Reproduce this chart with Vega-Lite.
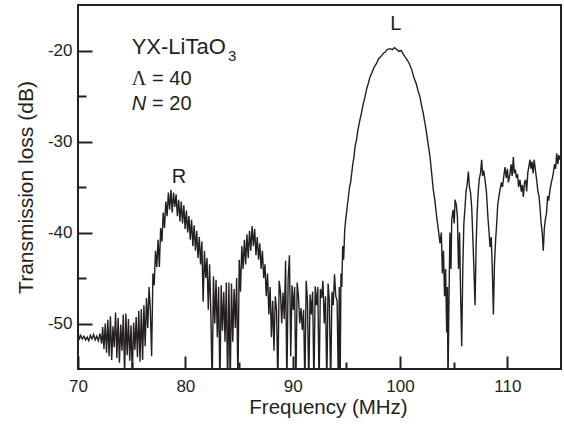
{
  "$schema": "https://vega.github.io/schema/vega-lite/v6.json",
  "width": 483,
  "height": 364,
  "autosize": {"type": "none"},
  "padding": {"left": 78, "top": 5, "right": 3, "bottom": 55},
  "background": "white",
  "config": {
    "view": {"stroke": "#231f20", "strokeWidth": 2},
    "font": "Liberation Sans",
    "axis": {
      "domain": false,
      "grid": false,
      "tickColor": "#231f20",
      "tickWidth": 2,
      "labelFont": "Liberation Sans",
      "labelFontSize": 17,
      "labelColor": "#231f20",
      "labelFlush": false,
      "titleFont": "Liberation Sans",
      "titleFontSize": 21,
      "titleFontWeight": "normal",
      "titleColor": "#231f20"
    }
  },
  "layer": [
    {
      "data": {"values": [
        {"freq":70.0,"loss":-50.6},{"freq":70.1,"loss":-51.8},{"freq":70.25,"loss":-51.3},{"freq":70.4,"loss":-51.7},{"freq":70.55,"loss":-51.4},{"freq":70.7,"loss":-51.8},{"freq":70.85,"loss":-51.5},{"freq":71.0,"loss":-51.9},{"freq":71.15,"loss":-51.3},{"freq":71.3,"loss":-51.7},{"freq":71.45,"loss":-51.2},{"freq":71.6,"loss":-51.8},{"freq":71.75,"loss":-51.4},{"freq":71.9,"loss":-51.9},{"freq":72.05,"loss":-51.1},{"freq":72.2,"loss":-52.2},
        {"freq":72.3,"loss":-50.4},{"freq":72.42,"loss":-52.8},{"freq":72.54,"loss":-50.0},{"freq":72.66,"loss":-53.2},{"freq":72.78,"loss":-49.6},{"freq":72.9,"loss":-53.6},{"freq":73.02,"loss":-49.2},{"freq":73.14,"loss":-54.0},{"freq":73.26,"loss":-50.3},{"freq":73.38,"loss":-52.6},{"freq":73.5,"loss":-48.8},{"freq":73.62,"loss":-53.8},{"freq":73.74,"loss":-49.4},{"freq":73.86,"loss":-54.3},{"freq":73.98,"loss":-50.1},{"freq":74.1,"loss":-53.0},{"freq":74.22,"loss":-49.0},{"freq":74.34,"loss":-55.6},{"freq":74.46,"loss":-48.9},{"freq":74.58,"loss":-53.5},{"freq":74.7,"loss":-49.5},{"freq":74.82,"loss":-54.1},{"freq":74.94,"loss":-50.2},{"freq":75.06,"loss":-55.8},{"freq":75.18,"loss":-49.9},{"freq":75.3,"loss":-52.9},{"freq":75.42,"loss":-49.3},{"freq":75.54,"loss":-53.7},{"freq":75.66,"loss":-48.6},{"freq":75.78,"loss":-54.2},{"freq":75.9,"loss":-48.4},{"freq":76.02,"loss":-54.0},{"freq":76.14,"loss":-48.0},{"freq":76.26,"loss":-52.5},{"freq":76.38,"loss":-47.2},{"freq":76.5,"loss":-50.5},
        {"freq":76.62,"loss":-46.0},{"freq":76.74,"loss":-48.5},{"freq":76.86,"loss":-53.6},{"freq":76.98,"loss":-44.5},{"freq":77.1,"loss":-45.8},{"freq":77.22,"loss":-42.0},{"freq":77.34,"loss":-43.8},{"freq":77.46,"loss":-40.8},{"freq":77.58,"loss":-43.8},{"freq":77.7,"loss":-39.5},{"freq":77.82,"loss":-41.0},{"freq":77.94,"loss":-37.8},{"freq":78.06,"loss":-39.5},{"freq":78.18,"loss":-36.6},{"freq":78.3,"loss":-38.2},{"freq":78.42,"loss":-35.6},{"freq":78.54,"loss":-37.5},{"freq":78.66,"loss":-35.3},{"freq":78.78,"loss":-37.8},{"freq":78.9,"loss":-35.6},{"freq":79.02,"loss":-37.2},{"freq":79.14,"loss":-35.8},{"freq":79.26,"loss":-38.2},{"freq":79.38,"loss":-36.4},{"freq":79.5,"loss":-38.8},{"freq":79.62,"loss":-36.6},{"freq":79.74,"loss":-39.0},{"freq":79.86,"loss":-37.0},{"freq":79.98,"loss":-39.6},{"freq":80.1,"loss":-37.6},{"freq":80.22,"loss":-40.0},{"freq":80.34,"loss":-38.2},{"freq":80.46,"loss":-40.8},{"freq":80.58,"loss":-38.6},{"freq":80.7,"loss":-41.5},{"freq":80.82,"loss":-39.2},{"freq":80.94,"loss":-42.0},{"freq":81.06,"loss":-39.8},{"freq":81.18,"loss":-42.8},{"freq":81.3,"loss":-40.5},{"freq":81.42,"loss":-43.5},{"freq":81.54,"loss":-41.0},{"freq":81.66,"loss":-47.6},{"freq":81.78,"loss":-42.0},{"freq":81.9,"loss":-45.0},{"freq":82.02,"loss":-42.8},{"freq":82.14,"loss":-48.5},{"freq":82.26,"loss":-43.5},{"freq":82.38,"loss":-49.0},{"freq":82.5,"loss":-57},{"freq":82.62,"loss":-44.8},{"freq":82.74,"loss":-50.0},{"freq":82.86,"loss":-45.2},{"freq":82.98,"loss":-51.5},{"freq":83.1,"loss":-46.0},{"freq":83.22,"loss":-57},{"freq":83.34,"loss":-45.8},{"freq":83.46,"loss":-50.8},{"freq":83.58,"loss":-46.5},{"freq":83.7,"loss":-52.0},{"freq":83.82,"loss":-45.5},{"freq":83.94,"loss":-57},{"freq":84.06,"loss":-45.5},{"freq":84.18,"loss":-57},{"freq":84.3,"loss":-45.6},{"freq":84.42,"loss":-52.0},{"freq":84.54,"loss":-46.2},{"freq":84.66,"loss":-50.5},{"freq":84.78,"loss":-45.0},{"freq":84.9,"loss":-57},
        {"freq":85.02,"loss":-43.0},{"freq":85.14,"loss":-46.5},{"freq":85.26,"loss":-41.5},{"freq":85.38,"loss":-44.0},{"freq":85.5,"loss":-40.8},{"freq":85.62,"loss":-43.5},{"freq":85.74,"loss":-40.2},{"freq":85.86,"loss":-42.8},{"freq":85.98,"loss":-39.8},{"freq":86.1,"loss":-42.0},{"freq":86.22,"loss":-39.3},{"freq":86.34,"loss":-41.5},{"freq":86.46,"loss":-39.6},{"freq":86.58,"loss":-42.5},{"freq":86.7,"loss":-40.5},{"freq":86.82,"loss":-43.0},{"freq":86.94,"loss":-41.2},{"freq":87.06,"loss":-44.0},{"freq":87.18,"loss":-42.0},{"freq":87.3,"loss":-45.0},{"freq":87.42,"loss":-43.5},{"freq":87.54,"loss":-47.0},{"freq":87.66,"loss":-44.5},{"freq":87.78,"loss":-49.0},{"freq":87.9,"loss":-46.0},{"freq":88.02,"loss":-51.5},{"freq":88.14,"loss":-47.5},{"freq":88.26,"loss":-53.0},{"freq":88.38,"loss":-47.0},{"freq":88.5,"loss":-48.5},{"freq":88.62,"loss":-57},{"freq":88.74,"loss":-45.3},{"freq":88.86,"loss":-46.5},{"freq":88.98,"loss":-50.0},{"freq":89.1,"loss":-46.6},{"freq":89.22,"loss":-49.5},{"freq":89.34,"loss":-43.1},{"freq":89.46,"loss":-57},{"freq":89.58,"loss":-45.0},{"freq":89.7,"loss":-42.5},{"freq":89.82,"loss":-53.6},{"freq":89.94,"loss":-45.8},{"freq":90.06,"loss":-48.5},{"freq":90.18,"loss":-46.0},{"freq":90.3,"loss":-57},{"freq":90.42,"loss":-45.5},{"freq":90.54,"loss":-47.0},{"freq":90.66,"loss":-50.0},{"freq":90.78,"loss":-48.3},{"freq":90.9,"loss":-50.7},{"freq":91.02,"loss":-48.5},{"freq":91.14,"loss":-57},{"freq":91.26,"loss":-45.3},{"freq":91.38,"loss":-47.5},{"freq":91.5,"loss":-57},{"freq":91.62,"loss":-46.8},{"freq":91.74,"loss":-49.0},{"freq":91.86,"loss":-46.5},{"freq":91.98,"loss":-57},{"freq":92.1,"loss":-45.9},{"freq":92.22,"loss":-48.0},{"freq":92.34,"loss":-46.0},{"freq":92.46,"loss":-57},{"freq":92.58,"loss":-46.2},{"freq":92.7,"loss":-47.2},{"freq":92.82,"loss":-45.3},{"freq":92.94,"loss":-50.0},{"freq":93.06,"loss":-47.0},{"freq":93.18,"loss":-57},{"freq":93.3,"loss":-45.6},{"freq":93.42,"loss":-47.5},{"freq":93.54,"loss":-57},{"freq":93.66,"loss":-46.5},{"freq":93.78,"loss":-48.0},{"freq":93.9,"loss":-44.6},{"freq":94.02,"loss":-47.0},{"freq":94.14,"loss":-47.5},{"freq":94.26,"loss":-57},{"freq":94.34,"loss":-46.0},{"freq":94.42,"loss":-57},
        {"freq":94.5,"loss":-44.5},{"freq":94.58,"loss":-46.0},{"freq":94.66,"loss":-41.5},{"freq":94.75,"loss":-43.0},{"freq":94.85,"loss":-39.7},{"freq":94.95,"loss":-38.5},{"freq":95.05,"loss":-37.5},{"freq":95.19,"loss":-36.1},{"freq":95.3,"loss":-35.0},{"freq":95.4,"loss":-34.5},{"freq":95.5,"loss":-33.5},{"freq":95.6,"loss":-32.5},{"freq":95.7,"loss":-31.8},{"freq":95.81,"loss":-30.6},{"freq":95.95,"loss":-29.8},{"freq":96.1,"loss":-28.6},{"freq":96.27,"loss":-27.6},{"freq":96.4,"loss":-26.9},{"freq":96.55,"loss":-26.0},{"freq":96.74,"loss":-25.1},{"freq":96.9,"loss":-24.2},{"freq":97.05,"loss":-23.6},{"freq":97.21,"loss":-22.9},{"freq":97.4,"loss":-22.4},{"freq":97.6,"loss":-21.8},{"freq":97.83,"loss":-21.4},{"freq":98.0,"loss":-20.9},{"freq":98.2,"loss":-20.7},{"freq":98.45,"loss":-20.3},{"freq":98.6,"loss":-20.2},{"freq":98.8,"loss":-19.9},{"freq":99.07,"loss":-19.8},{"freq":99.3,"loss":-19.9},{"freq":99.5,"loss":-19.7},{"freq":99.69,"loss":-19.9},{"freq":99.9,"loss":-20.1},{"freq":100.1,"loss":-20.0},{"freq":100.3,"loss":-20.4},{"freq":100.47,"loss":-20.7},{"freq":100.65,"loss":-21.0},{"freq":100.85,"loss":-21.4},{"freq":101.09,"loss":-22.1},{"freq":101.3,"loss":-23.0},{"freq":101.5,"loss":-23.6},{"freq":101.7,"loss":-24.5},{"freq":101.86,"loss":-25.1},{"freq":102.0,"loss":-26.0},{"freq":102.15,"loss":-26.8},{"freq":102.33,"loss":-28.0},{"freq":102.5,"loss":-29.3},{"freq":102.65,"loss":-30.5},{"freq":102.8,"loss":-31.7},{"freq":102.95,"loss":-33.5},{"freq":103.1,"loss":-35.3},{"freq":103.25,"loss":-36.5},{"freq":103.42,"loss":-38.3},{"freq":103.55,"loss":-39.5},{"freq":103.73,"loss":-41.2},{"freq":103.85,"loss":-40.0},{"freq":103.95,"loss":-44.5},{"freq":104.05,"loss":-42.0},{"freq":104.15,"loss":-47.0},{"freq":104.25,"loss":-44.0},{"freq":104.35,"loss":-51.0},{"freq":104.42,"loss":-46.0},{"freq":104.47,"loss":-57},{"freq":104.55,"loss":-48.5},{"freq":104.65,"loss":-40.0},{"freq":104.75,"loss":-44.0},{"freq":104.82,"loss":-38.6},{"freq":104.95,"loss":-37.5},{"freq":105.05,"loss":-39.0},{"freq":105.13,"loss":-36.4},{"freq":105.25,"loss":-37.0},{"freq":105.35,"loss":-38.3},{"freq":105.45,"loss":-44.0},{"freq":105.55,"loss":-40.0},{"freq":105.65,"loss":-47.0},{"freq":105.75,"loss":-52.5},{"freq":105.85,"loss":-44.0},{"freq":105.95,"loss":-39.0},{"freq":106.06,"loss":-37.2},{"freq":106.15,"loss":-35.5},{"freq":106.25,"loss":-34.8},{"freq":106.37,"loss":-33.3},{"freq":106.47,"loss":-35.0},{"freq":106.57,"loss":-35.6},{"freq":106.68,"loss":-37.2},{"freq":106.8,"loss":-41.0},{"freq":106.9,"loss":-44.5},{"freq":106.99,"loss":-48.0},{"freq":107.1,"loss":-41.0},{"freq":107.2,"loss":-37.5},{"freq":107.3,"loss":-35.3},{"freq":107.4,"loss":-34.0},{"freq":107.5,"loss":-33.5},{"freq":107.61,"loss":-32.0},{"freq":107.7,"loss":-33.8},{"freq":107.8,"loss":-33.2},{"freq":107.92,"loss":-34.2},{"freq":108.05,"loss":-35.5},{"freq":108.2,"loss":-38.5},{"freq":108.3,"loss":-40.0},{"freq":108.39,"loss":-41.6},{"freq":108.5,"loss":-40.5},{"freq":108.6,"loss":-44.0},{"freq":108.7,"loss":-49.0},{"freq":108.8,"loss":-43.5},{"freq":108.9,"loss":-41.0},{"freq":109.01,"loss":-39.0},{"freq":109.1,"loss":-37.0},{"freq":109.2,"loss":-36.2},{"freq":109.32,"loss":-35.3},{"freq":109.45,"loss":-34.5},{"freq":109.55,"loss":-35.0},{"freq":109.63,"loss":-34.2},{"freq":109.78,"loss":-32.8},{"freq":109.9,"loss":-34.0},{"freq":110.0,"loss":-33.0},{"freq":110.1,"loss":-34.5},{"freq":110.25,"loss":-33.5},{"freq":110.35,"loss":-32.5},{"freq":110.45,"loss":-33.8},{"freq":110.56,"loss":-31.7},{"freq":110.65,"loss":-33.5},{"freq":110.75,"loss":-33.1},{"freq":110.85,"loss":-34.0},{"freq":110.95,"loss":-33.6},{"freq":111.05,"loss":-35.0},{"freq":111.18,"loss":-34.2},{"freq":111.3,"loss":-35.5},{"freq":111.4,"loss":-34.8},{"freq":111.49,"loss":-36.1},{"freq":111.6,"loss":-34.5},{"freq":111.7,"loss":-34.2},{"freq":111.8,"loss":-35.5},{"freq":111.9,"loss":-33.5},{"freq":112.0,"loss":-32.8},{"freq":112.11,"loss":-32.0},{"freq":112.2,"loss":-33.0},{"freq":112.3,"loss":-32.2},{"freq":112.4,"loss":-33.5},{"freq":112.5,"loss":-32.0},{"freq":112.6,"loss":-33.0},{"freq":112.73,"loss":-34.2},{"freq":112.85,"loss":-35.5},{"freq":112.95,"loss":-36.0},{"freq":113.04,"loss":-37.2},{"freq":113.15,"loss":-39.0},{"freq":113.25,"loss":-40.0},{"freq":113.35,"loss":-42.0},{"freq":113.45,"loss":-39.5},{"freq":113.55,"loss":-38.5},{"freq":113.65,"loss":-37.9},{"freq":113.75,"loss":-36.0},{"freq":113.85,"loss":-36.5},{"freq":113.98,"loss":-35.3},{"freq":114.1,"loss":-34.5},{"freq":114.2,"loss":-34.0},{"freq":114.28,"loss":-33.5},{"freq":114.4,"loss":-32.5},{"freq":114.5,"loss":-33.0},{"freq":114.6,"loss":-31.3},{"freq":114.7,"loss":-32.5},{"freq":114.8,"loss":-31.5},{"freq":114.9,"loss":-32.0},{"freq":115.0,"loss":-31.5}
      ]},
      "mark": {"type": "line", "color": "#231f20", "strokeWidth": 1.4, "clip": true},
      "encoding": {
        "x": {
          "field": "freq", "type": "quantitative",
          "scale": {"domain": [70, 115], "nice": false, "zero": false},
          "axis": {
            "title": "Frequency (MHz)",
            "values": [70, 75, 80, 85, 90, 95, 100, 105, 110],
            "labelExpr": "datum.value % 10 === 0 ? '' + datum.value : ''",
            "tickSize": {"condition": {"test": "datum.value % 10 === 0", "value": -13}, "value": -7},
            "labelPadding": 22,
            "titleFontSize": 20.5,
            "titleX": 250,
            "titleY": 44.5,
            "titleAlign": "center",
            "titleBaseline": "alphabetic"
          }
        },
        "y": {
          "field": "loss", "type": "quantitative",
          "scale": {"domain": [-55, -15], "nice": false, "zero": false},
          "axis": {
            "title": "Transmission loss (dB)",
            "values": [-50, -45, -40, -35, -30, -25, -20],
            "labelExpr": "datum.value % 10 === 0 ? '' + datum.value : ''",
            "tickSize": {"condition": {"test": "datum.value % 10 === 0", "value": -14}, "value": -8},
            "labelPadding": 20,
            "titleX": -46,
            "titleY": 182,
            "titleAngle": -90,
            "titleAlign": "center",
            "titleBaseline": "alphabetic"
          }
        }
      }
    },
    {
      "data": {"values": [{"freq": 79.4, "loss": -34.6, "label": "R"}, {"freq": 99.6, "loss": -17.8, "label": "L"}]},
      "mark": {"type": "text", "font": "Liberation Sans", "fontSize": 20, "color": "#231f20", "align": "center", "baseline": "alphabetic"},
      "encoding": {"x": {"field": "freq", "type": "quantitative"}, "y": {"field": "loss", "type": "quantitative"}, "text": {"field": "label"}}
    },
    {
      "data": {"values": [{"freq": 75.0, "loss": -20.4, "label": "YX-LiTaO"}]},
      "mark": {"type": "text", "font": "Liberation Sans", "fontSize": 22, "color": "#231f20", "align": "left", "baseline": "alphabetic"},
      "encoding": {"x": {"field": "freq", "type": "quantitative"}, "y": {"field": "loss", "type": "quantitative"}, "text": {"field": "label"}}
    },
    {
      "data": {"values": [{"freq": 76.9, "loss": -23.8, "label": "= 40"}, {"freq": 76.9, "loss": -26.5, "label": "= 20"}]},
      "mark": {"type": "text", "font": "Liberation Sans", "fontSize": 20, "color": "#231f20", "align": "left", "baseline": "alphabetic"},
      "encoding": {"x": {"field": "freq", "type": "quantitative"}, "y": {"field": "loss", "type": "quantitative"}, "text": {"field": "label"}}
    },
    {
      "data": {"values": [{"freq": 83.97, "loss": -21.1, "label": "3"}]},
      "mark": {"type": "text", "font": "Liberation Sans", "fontSize": 15, "color": "#231f20", "align": "left", "baseline": "alphabetic"},
      "encoding": {"x": {"field": "freq", "type": "quantitative"}, "y": {"field": "loss", "type": "quantitative"}, "text": {"field": "label"}}
    },
    {
      "data": {"values": [{"freq": 75.0, "loss": -23.8, "label": "Λ"}]},
      "mark": {"type": "text", "font": "Liberation Serif", "fontSize": 20, "color": "#231f20", "align": "left", "baseline": "alphabetic"},
      "encoding": {"x": {"field": "freq", "type": "quantitative"}, "y": {"field": "loss", "type": "quantitative"}, "text": {"field": "label"}}
    },
    {
      "data": {"values": [{"freq": 75.0, "loss": -26.5, "label": "N"}]},
      "mark": {"type": "text", "font": "Liberation Sans", "fontSize": 20, "fontStyle": "italic", "color": "#231f20", "align": "left", "baseline": "alphabetic"},
      "encoding": {"x": {"field": "freq", "type": "quantitative"}, "y": {"field": "loss", "type": "quantitative"}, "text": {"field": "label"}}
    }
  ]
}
